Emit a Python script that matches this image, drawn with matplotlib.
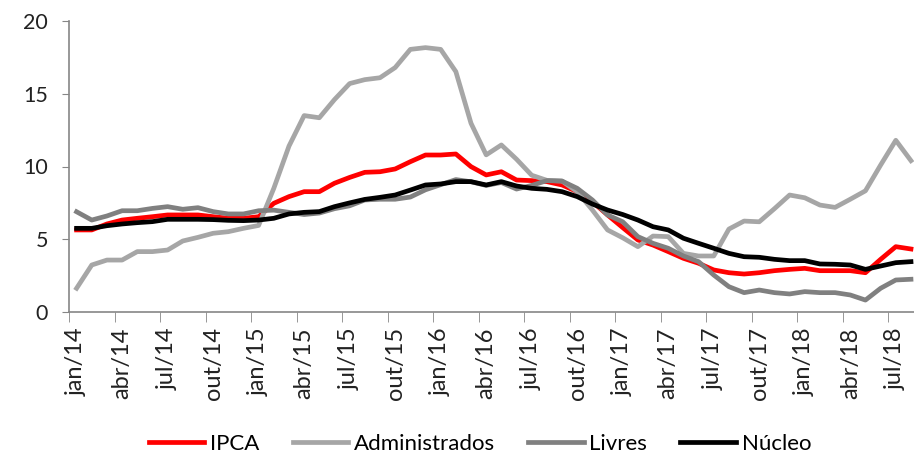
import matplotlib
matplotlib.use("Agg")
import matplotlib.pyplot as plt
import numpy as np

months = ["jan", "fev", "mar", "abr", "mai", "jun", "jul", "ago", "set", "out", "nov", "dez"]
categories = [f"{m}/{y}" for y in range(14, 19) for m in months][:56]

ipca = [5.64, 5.64, 6.05, 6.32, 6.44, 6.55, 6.67, 6.67, 6.67, 6.55, 6.44, 6.44,
        6.55, 7.47, 7.93, 8.27, 8.27, 8.85, 9.25, 9.60, 9.64, 9.83, 10.33, 10.79,
        10.79, 10.86, 9.99, 9.42, 9.64, 9.07, 9.03, 8.96, 8.73, 8.27, 7.58, 6.67,
        5.80, 4.95, 4.60, 4.15, 3.69, 3.35, 2.89, 2.70, 2.61, 2.70, 2.84, 2.93,
        3.00, 2.84, 2.84, 2.84, 2.70, 3.62, 4.49, 4.33]

administrados = [1.63, 3.23, 3.57, 3.57, 4.15, 4.15, 4.26, 4.88, 5.13, 5.41, 5.52, 5.75,
                 5.95, 8.50, 11.40, 13.50, 13.35, 14.60, 15.70, 15.97, 16.10, 16.80, 18.05, 18.17,
                 18.05, 16.52, 12.97, 10.80, 11.48, 10.50, 9.40, 9.05, 9.00, 8.27, 7.01, 5.64,
                 5.10, 4.49, 5.22, 5.18, 4.03, 3.85, 3.85, 5.70, 6.25, 6.20, 7.10, 8.04,
                 7.85, 7.35, 7.19, 7.75, 8.33, 10.10, 11.80, 10.40]

livres = [6.89, 6.32, 6.60, 6.96, 6.96, 7.12, 7.24, 7.06, 7.17, 6.90, 6.74, 6.74,
          6.96, 7.00, 6.85, 6.70, 6.80, 7.10, 7.30, 7.70, 7.75, 7.75, 7.90, 8.40,
          8.75, 9.10, 8.95, 8.70, 8.90, 8.45, 8.70, 9.03, 9.00, 8.50, 7.70, 6.67,
          6.20, 5.18, 4.72, 4.38, 3.85, 3.46, 2.54, 1.74, 1.33, 1.51, 1.33, 1.24,
          1.40, 1.33, 1.33, 1.17, 0.82, 1.63, 2.20, 2.25]

nucleo = [5.75, 5.75, 5.93, 6.05, 6.14, 6.21, 6.37, 6.37, 6.37, 6.35, 6.30, 6.28,
          6.32, 6.44, 6.74, 6.85, 6.90, 7.24, 7.50, 7.74, 7.88, 8.04, 8.38, 8.73,
          8.80, 8.96, 8.96, 8.73, 8.96, 8.66, 8.50, 8.43, 8.27, 7.93, 7.42, 7.01,
          6.70, 6.32, 5.86, 5.64, 5.07, 4.72, 4.38, 4.03, 3.80, 3.76, 3.62, 3.53,
          3.53, 3.30, 3.28, 3.23, 2.93, 3.16, 3.39, 3.46]

series_names = ["IPCA", "Administrados", "Livres", "Núcleo"]
colors = ["#FF0000", "#A6A6A6", "#808080", "#000000"]

plt.rcParams['font.family'] = ['Lato', 'DejaVu Sans']

fig = plt.figure(figsize=(9.14, 4.57), dpi=100)
ax = fig.add_axes([69 / 914, (457 - 312) / 457, 1 - 69 / 914, (312 - 21) / 457])

x = np.arange(len(categories))
for vals, name, c in zip([ipca, administrados, livres, nucleo], series_names, colors):
    ax.plot(x, vals, color=c, lw=3.4, label=name, solid_joinstyle='round')

ax.set_xlim(-0.5, 55.2)
ax.set_ylim(0, 20)
ax.set_yticks([0, 5, 10, 15, 20])
ax.tick_params(axis='y', length=5, color='#868686', labelsize=15.5, pad=10, labelcolor='#222222')

ax.set_xticks(x[::3])
ax.set_xticklabels(categories[::3], rotation=90, fontsize=17, color='#222222')
ax.tick_params(axis='x', which='major', length=0, pad=11)
ax.set_xticks(np.arange(-0.5, 56, 3), minor=True)
ax.tick_params(axis='x', which='minor', length=7, color='#868686')

for s in ['top', 'right']:
    ax.spines[s].set_visible(False)
for s in ['left', 'bottom']:
    ax.spines[s].set_color('#868686')
    ax.spines[s].set_linewidth(1.2)

fig.legend(loc='center', bbox_to_anchor=(0.525, (457 - 444) / 457), ncol=4, frameon=False,
           fontsize=16, handlelength=2.5, handletextpad=0.25, columnspacing=1.5)

fig.savefig("out.png", dpi=100)
